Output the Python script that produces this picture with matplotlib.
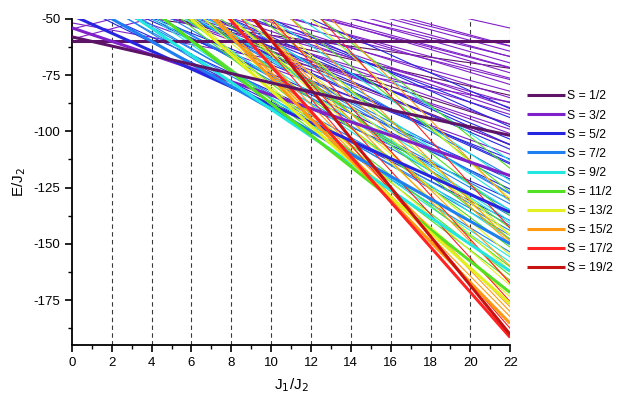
import matplotlib
matplotlib.use('Agg')
import matplotlib.pyplot as plt

plt.rcParams['font.family'] = ['Liberation Sans', 'DejaVu Sans']
plt.rcParams['axes.unicode_minus'] = False

# ---------------- data ----------------
spin_labels = ['S = 1/2', 'S = 3/2', 'S = 5/2', 'S = 7/2', 'S = 9/2',
               'S = 11/2', 'S = 13/2', 'S = 15/2', 'S = 17/2', 'S = 19/2']
spin_colors = ['#5e1466', '#8020c8', '#2626e0', '#1e80f0', '#22e6e0',
               '#52e022', '#e2f020', '#ff9a12', '#ff2222', '#c81212']

# lowest level of each spin (thick lines): x points and E/J2 values
low_x = [[0, 22], [0, 22], [0, 22], [0, 22], [0, 22],
         [0, 22], [0, 22], [0, 22], [0, 22], [0, 22]]
low_e = [[-60.0, -60.0], [-54.0, -119.7], [-48.4, -136.0], [-40.0, -150.0],
         [-30.2, -162.2], [-17.7, -171.7], [-2.8, -176.6], [14.8, -185.4],
         [29.5, -191.6], [49.5, -190.3]]
# second thick S = 1/2 level (slightly curved)
low2_x_s12 = [0, 5.4, 11.5, 16.5, 22]
low2_e_s12 = [-58.0, -69.0, -81.5, -91.5, -101.8]

# excited levels (thin lines): E/J2 at J1/J2 = 0 and at J1/J2 = 22
thin_e0_s12 = [-45.0, -40.0, -35.0, -30.0]
thin_e22_s12 = [-72.0, -84.0, -96.9, -106.0]
thin_e0_s32 = [-10.1, -13.8, -11.6, -20.5, -14.6, -21.2, -16.8, -28.6, -19.8,
               -29.4, -23.5, -32.3, -23.5, -33.1, -28.7, -35.3, -33.2, -39.8,
               -51.8, -54.5, -59.0, -23.6, -18.8, -14.0, -9.2, -26.0, -30.5]
thin_e22_s32 = [-54.1, -62.2, -64.4, -66.7, -69.6, -71.8, -74.0, -77.0, -79.2,
                -82.2, -85.1, -87.3, -89.5, -92.5, -96.9, -99.1, -105.8, -110.2,
                -87.0, -6.0, -8.0, -76.4, -71.6, -66.8, -62.0, -91.0, -101.0]
thin_e0_s52 = [-19.1, -24.3, -24.4, -35.4, -26.6, -35.4, -33.3, -42.1, -42.9,
               -26.0, -18.0, -10.0, -2.0]
thin_e22_s52 = [-93.9, -103.5, -108.0, -112.4, -114.6, -121.2, -125.7, -130.1, -139.7,
                -114.0, -106.0, -98.0, -90.0]
thin_e0_s72 = [-22.3, -20.1, -28.9, -27.5, -34.1, -31.9, -34.9, -36.3,
               -25.0, -17.5, -10.0]
thin_e22_s72 = [-123.5, -127.9, -132.3, -137.5, -141.9, -146.3, -153.7, -144.1,
                -135.0, -127.5, -120.0]
thin_e0_s92 = [-11.8, -13.4, -16.0, -26.1, -23.9, -8.0, 1.0, 10.0, 19.0]
thin_e22_s92 = [-135.0, -141.0, -148.0, -155.9, -158.1, -140.0, -131.0, -122.0, -113.0]
thin_e0_s112 = [-2.2, -6.3, -10.7, -12.2, -18.8, 6.0, 16.5, 27.0, 37.5]
thin_e22_s112 = [-143.0, -151.5, -160.3, -164.0, -166.2, -148.0, -137.5, -127.0, -116.5]
thin_e0_s132 = [12.1, 10.0, 0.9, -2.0, 14.0, 30.0, 46.0]
thin_e22_s132 = [-146.3, -155.0, -168.5, -173.6, -162.0, -146.0, -130.0]
thin_e0_s152 = [30.4, 27.0, 13.4, 22.2, 15.6, 31.0, 49.0, 67.0]
thin_e22_s152 = [-150.0, -160.0, -178.0, -180.2, -182.4, -167.0, -149.0, -131.0]
thin_e0_s172 = [37.7, 36.8, 48.0, 72.5]
thin_e22_s172 = [-175.7, -187.6, -167.6, -143.1]

thin_e0 = [thin_e0_s12, thin_e0_s32, thin_e0_s52, thin_e0_s72, thin_e0_s92,
           thin_e0_s112, thin_e0_s132, thin_e0_s152, thin_e0_s172, []]
thin_e22 = [thin_e22_s12, thin_e22_s32, thin_e22_s52, thin_e22_s72, thin_e22_s92,
            thin_e22_s112, thin_e22_s132, thin_e22_s152, thin_e22_s172, []]

x_ticks = [0, 2, 4, 6, 8, 10, 12, 14, 16, 18, 20, 22]
y_ticks = [-175, -150, -125, -100, -75, -50]
grid_x = [2, 4, 6, 8, 10, 12, 14, 16, 18, 20, 22]

# ---------------- plot ----------------
fig = plt.figure(figsize=(6.26, 3.93), dpi=100)
ax = fig.add_axes([0.115, 0.122, 0.7, 0.830])

for gx in grid_x:
    ax.axvline(gx, color='#3a3a3a', lw=0.8, ls=(0, (4, 3)), zorder=1)

for i in range(len(spin_labels)):
    for e0, e22 in zip(thin_e0[i], thin_e22[i]):
        ax.plot([0, 22], [e0, e22], color=spin_colors[i], lw=0.8, zorder=2)

handles = []
for i in range(len(spin_labels)):
    h, = ax.plot(low_x[i], low_e[i], color=spin_colors[i], lw=2.2, zorder=3,
                 solid_capstyle='butt', label=spin_labels[i])
    handles.append(h)
ax.plot(low2_x_s12, low2_e_s12, color=spin_colors[0], lw=2.2, zorder=3)

ax.set_xlim(0, 22)
ax.set_ylim(-195, -50)
ax.set_xticks(x_ticks)
ax.set_xticks([1, 3, 5, 7, 9, 11, 13, 15, 17, 19, 21], minor=True)
ax.set_yticks(y_ticks)
ax.set_yticks([-187.5, -162.5, -137.5, -112.5, -87.5, -62.5], minor=True)
ax.tick_params(which='major', direction='out', length=5, width=1.2, labelsize=9.5)
ax.tick_params(which='minor', direction='out', length=3, width=1.0)
for s in ['top', 'right']:
    ax.spines[s].set_visible(False)
for s in ['left', 'bottom']:
    ax.spines[s].set_linewidth(1.3)

ax.set_xlabel('J$_1$/J$_2$', fontsize=11, labelpad=5)
ax.set_ylabel('E/J$_2$', fontsize=11, labelpad=4)

fig.legend(handles=handles, loc='center left', bbox_to_anchor=(0.824, 0.536),
           frameon=False, fontsize=8.8, handlelength=3.1, handletextpad=0.15,
           labelspacing=0.58)

fig.savefig('out.png', dpi=100)
